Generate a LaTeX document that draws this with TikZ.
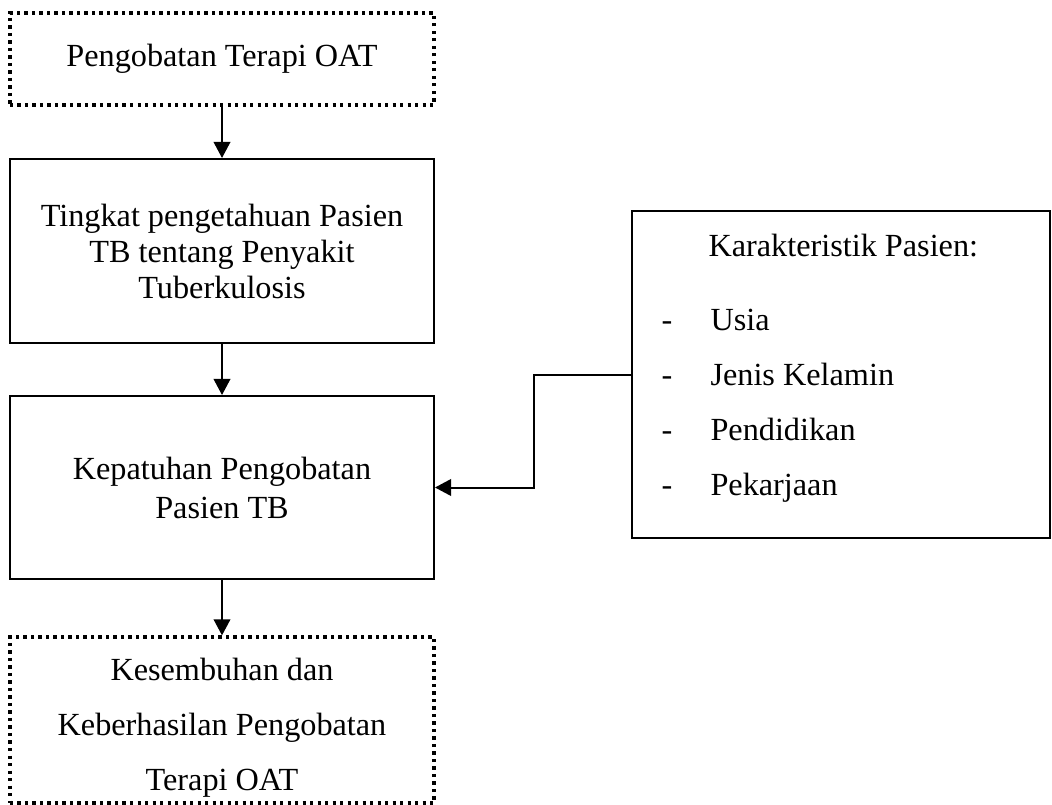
\documentclass[tikz,border=0pt]{standalone}
\usepackage{fontspec}
\setmainfont{Liberation Serif}
\usepackage{tikz}
\usetikzlibrary{arrows.meta,positioning}
\tikzset{solid box/.style={rectangle,draw,line width=0.8pt,inner sep=0pt,align=center,minimum width=169.6pt},
	dotted box/.style={rectangle,draw,line width=1.3pt,dash pattern=on 1.3pt off 1.7pt,inner sep=0pt,align=center,minimum width=169.6pt},
	flow arrow/.style={line width=0.8pt,-{Triangle[length=6.4pt,width=6.6pt]}},
	item text/.style={anchor=base west,inner sep=0pt}}

\begin{document}
\begin{tikzpicture}[x=0.4pt,y=-0.4pt,font=\fontsize{12.9}{15}\selectfont]
	\useasboundingbox (0,0) rectangle (1052,805);
	
	\node (oat)		[dotted box,minimum height=36.8pt]	at	(222,59)	{Pengobatan Terapi OAT};
	\node (tahu)	[solid box,minimum height=73.6pt]	at	(222,251)	{Tingkat pengetahuan Pasien\\[-0.6pt]TB tentang Penyakit\\[-0.6pt]Tuberkulosis};
	\node (patuh)	[solid box,minimum height=73.2pt]	at	(222,487.5)	{Kepatuhan Pengobatan\\[0.6pt]Pasien TB};
	\node (sembuh)	[dotted box,minimum height=66.4pt]	at	(222,720)	{};
	\node (karakter)	[solid box,minimum width=167.2pt,minimum height=130.8pt]	at	(841,374.5)	{};
	
	\node (sembuhteks)	[align=center,inner sep=0pt]	at	(222,728)	{Kesembuhan dan\\[7pt]Keberhasilan Pengobatan\\[7pt]Terapi OAT};
	\node (judul)	[item text]	at	(708,257)	{Karakteristik Pasien:};
	\node (d1)		[item text]	at	(661,330)	{-};
	\node (d2)		[item text]	at	(661,385)	{-};
	\node (d3)		[item text]	at	(661,440)	{-};
	\node (d4)		[item text]	at	(661,495)	{-};
	\node (usia)	[item text]	at	(710,330)	{Usia};
	\node (jenis)	[item text]	at	(710,385)	{Jenis Kelamin};
	\node (didik)	[item text]	at	(710,440)	{Pendidikan};
	\node (kerja)	[item text]	at	(710,495)	{Pekarjaan};
	
	\coordinate (elbow) at (534,430);
	
	\draw [flow arrow] (oat) -- (tahu);
	\draw [flow arrow] (tahu) -- (patuh);
	\draw [flow arrow] (patuh) -- (sembuh);
	\draw [flow arrow] (karakter.west) -| (elbow) |- (patuh.east);
\end{tikzpicture}
\end{document}
